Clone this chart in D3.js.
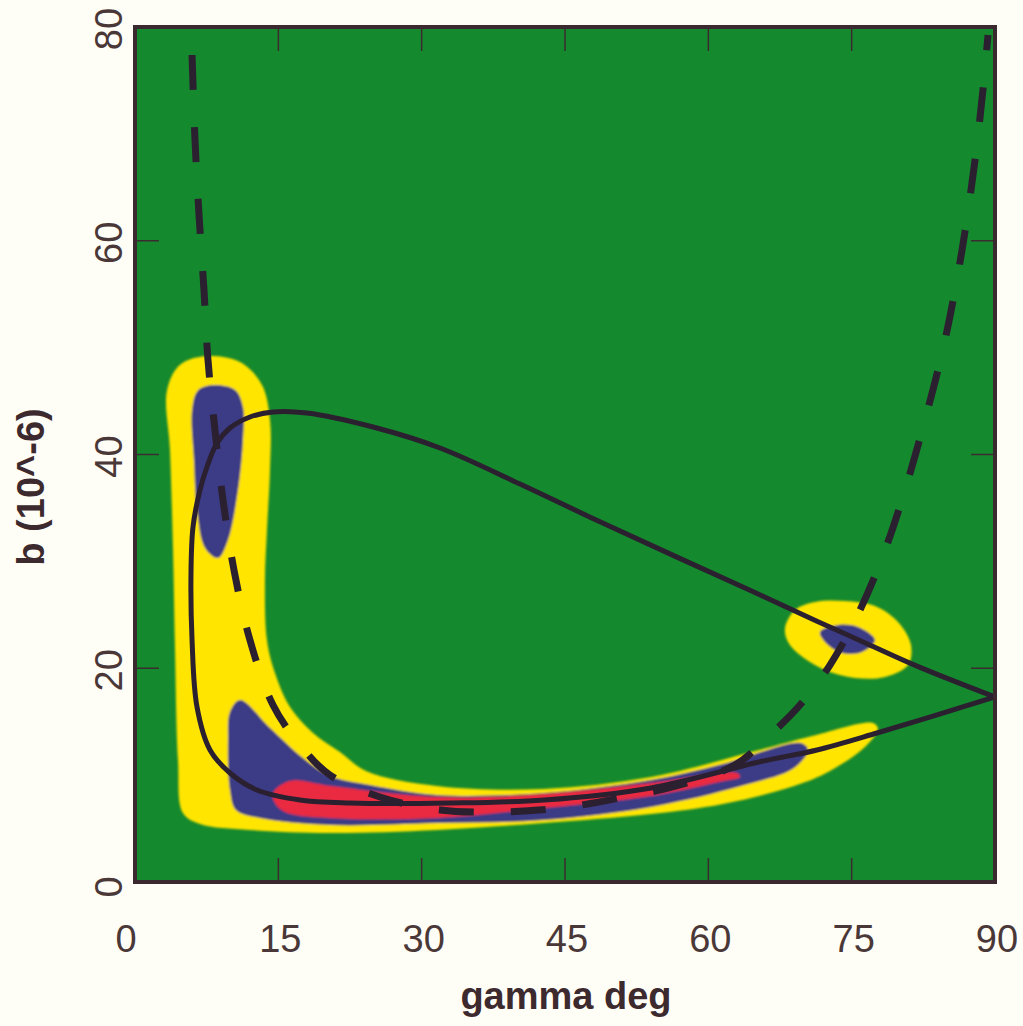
<!DOCTYPE html>
<html>
<head>
<meta charset="utf-8">
<script src="https://cdn.jsdelivr.net/npm/d3@7"></script>
<style>
  body { margin: 0; background: #fffef6; }
  svg { display: block; }
  text { font-family: "Liberation Sans", Arial, sans-serif; }
</style>
</head>
<body>
<div class="chart"></div>
<script>
// axis ticks
const xTicks = [0, 15, 30, 45, 60, 75, 90];
const yTicks = [0, 20, 40, 60, 80];

// contour regions, [gamma deg, b (10^-6)]
const yellowL = [
  [7.33, 49.2], [10.99, 48.65], [13.29, 46.5], [14.13, 43.2], [14.13, 38.55],
  [13.81, 32.9], [13.6, 28.26], [13.81, 22.64], [14.65, 19.55], [16.22, 16.37],
  [18.63, 13.94], [21.45, 12.16], [24.17, 10.39], [31.6, 8.98], [42.8, 8.7],
  [54.0, 9.82], [65.3, 12.35], [70.85, 13.66], [77.23, 14.88], [77.75, 14.32],
  [76.5, 12.73], [72.73, 10.39], [68.97, 8.98], [61.53, 7.3], [54.0, 6.36],
  [42.8, 5.52], [31.6, 4.87], [20.4, 4.58], [12.03, 4.87], [6.8, 5.43],
  [5.02, 6.46], [4.5, 11.4], [4.19, 21.7], [3.98, 31.06], [3.66, 40.4],
  [3.35, 46.0], [4.71, 48.4]
];
const yellowEllipse = [
  [68.02, 23.77], [69.07, 25.45], [71.16, 26.2], [74.3, 26.29], [77.44, 25.82],
  [79.85, 24.33], [81.21, 22.18], [80.9, 20.3], [78.49, 19.18], [75.35, 19.09],
  [72.21, 19.84], [69.59, 21.24], [68.34, 22.46]
];
const blueUpper = [
  [8.16, 46.5], [10.47, 46.04], [11.3, 44.44], [11.3, 41.36], [10.78, 36.68],
  [9.73, 32.0], [8.69, 30.32], [7.33, 31.25], [6.49, 34.8], [6.17, 39.49],
  [5.97, 44.16], [6.59, 46.0]
];
const blueLower = [
  [10.99, 17.03], [14.13, 14.41], [17.58, 11.6], [20.41, 9.92], [24.59, 9.08],
  [31.6, 8.14], [42.8, 8.33], [54.0, 9.54], [61.53, 11.04], [69.7, 13.0],
  [70.43, 12.35], [68.97, 10.67], [63.42, 8.98], [54.0, 7.02], [42.8, 5.8],
  [31.6, 5.52], [20.41, 5.33], [13.08, 5.99], [10.57, 6.74], [9.94, 8.61],
  [9.73, 13.29], [9.94, 15.9]
];
const blueEllipse = [
  [71.69, 23.39], [73.57, 24.05], [75.66, 23.86], [77.44, 22.64],
  [76.08, 21.52], [73.99, 21.43], [72.31, 22.36]
];
const redBand = [
  [14.44, 8.33], [16.22, 9.45], [20.41, 8.98], [31.6, 7.95], [42.8, 8.23],
  [54.0, 9.26], [63.0, 10.2], [63.31, 9.82], [61.53, 9.45], [54.0, 8.05],
  [42.8, 6.92], [31.6, 5.99], [20.41, 5.99], [15.7, 6.55], [14.65, 7.39]
];

// curves
const solidCurve = [
  [90.0, 17.31], [81.84, 20.2], [76.6, 22.3], [71.37, 24.4], [64.36, 27.3],
  [56.72, 30.4], [48.66, 33.7], [40.29, 37.24], [31.92, 40.61], [24.91, 42.57],
  [18.0, 43.88], [14.44, 43.98], [12.03, 43.51], [9.94, 42.48], [8.58, 41.08],
  [7.53, 38.83], [6.8, 36.68], [6.07, 33.22], [5.86, 28.91], [5.97, 22.64],
  [6.49, 16.37], [7.85, 12.35], [9.94, 10.2], [12.77, 8.61], [17.27, 7.67],
  [22.5, 7.39], [32.97, 7.39], [42.8, 7.67], [54.0, 8.8], [65.3, 11.23],
  [71.37, 12.35], [77.65, 13.94], [90.0, 17.31]
];
const dashedCurve = [
  [5.97, 77.38], [6.28, 69.43], [6.7, 62.41], [7.22, 55.39], [7.64, 48.84],
  [8.37, 42.29], [9.21, 35.74], [10.36, 29.19], [12.03, 22.64], [14.44, 16.56],
  [17.27, 12.82], [20.41, 10.01], [25.64, 7.95], [31.92, 6.74], [38.2, 6.55],
  [44.48, 6.92], [50.76, 7.86], [57.03, 9.08], [62.79, 10.95], [66.45, 13.75],
  [69.59, 16.56], [72.73, 20.3], [75.87, 25.45], [78.49, 31.06], [80.58, 36.68],
  [82.67, 43.23], [84.77, 50.71], [86.55, 59.13], [87.91, 67.56], [88.74, 74.11],
  [89.27, 79.25]
];

const width = 1023, height = 1026;
const margin = {left: 135, right: 28, top: 27, bottom: 144};
const innerW = width - margin.left - margin.right;
const innerH = height - margin.top - margin.bottom;

const x = d3.scaleLinear().domain([0, 90]).range([0, innerW]);
const y = d3.scaleLinear().domain([0, 80]).range([innerH, 0]);

const svg = d3.select('div.chart').append('svg')
  .attr('width', width)
  .attr('height', height);

svg.append('defs').append('clipPath').attr('id', 'plotclip')
  .append('rect').attr('width', innerW).attr('height', innerH);

// slightly soft contour edges, like the printed original
const blur = svg.select('defs').append('filter').attr('id', 'soft')
  .attr('x', '-5%').attr('y', '-5%').attr('width', '110%').attr('height', '110%');
blur.append('feGaussianBlur').attr('stdDeviation', 0.9);

const g = svg.append('g').attr('transform', `translate(${margin.left},${margin.top})`);
const plot = g.append('g').attr('clip-path', 'url(#plotclip)');

plot.append('rect')
  .attr('width', innerW).attr('height', innerH)
  .style('fill', '#15892d');

const area = d3.line().x(d => x(d[0])).y(d => y(d[1])).curve(d3.curveCatmullRomClosed.alpha(0.5));
const curve = d3.line().x(d => x(d[0])).y(d => y(d[1])).curve(d3.curveCatmullRom.alpha(0.5));

const regions = [
  {pts: yellowL, color: '#ffe500'},
  {pts: yellowEllipse, color: '#ffe500'},
  {pts: blueUpper, color: '#3a3a86'},
  {pts: blueLower, color: '#3a3a86'},
  {pts: blueEllipse, color: '#3a3a86'},
  {pts: redBand, color: '#ea2a40'}
];

plot.append('g').attr('filter', 'url(#soft)')
  .selectAll('path')
  .data(regions)
  .enter()
    .append('path')
    .attr('d', d => area(d.pts))
    .style('fill', d => d.color);

plot.append('path')
  .attr('d', curve(solidCurve))
  .style('fill', 'none')
  .style('stroke', '#2b2030')
  .style('stroke-width', 5);

plot.append('path')
  .attr('d', curve(dashedCurve))
  .style('fill', 'none')
  .style('stroke', '#2b2030')
  .style('stroke-width', 7)
  .style('stroke-dasharray', '35,37');

// inside ticks on all four sides
const tickLen = 24;
const tickColor = '#3a2c30';
xTicks.slice(1, -1).forEach(t => {
  g.append('line').attr('x1', x(t)).attr('x2', x(t)).attr('y1', innerH).attr('y2', innerH - tickLen)
    .style('stroke', tickColor).style('stroke-width', 1.5);
  g.append('line').attr('x1', x(t)).attr('x2', x(t)).attr('y1', 0).attr('y2', tickLen)
    .style('stroke', tickColor).style('stroke-width', 1.5);
});
yTicks.slice(1, -1).forEach(t => {
  g.append('line').attr('x1', 0).attr('x2', tickLen).attr('y1', y(t)).attr('y2', y(t))
    .style('stroke', tickColor).style('stroke-width', 1.5);
  g.append('line').attr('x1', innerW).attr('x2', innerW - tickLen).attr('y1', y(t)).attr('y2', y(t))
    .style('stroke', tickColor).style('stroke-width', 1.5);
});

// frame
g.append('rect')
  .attr('width', innerW).attr('height', innerH)
  .style('fill', 'none')
  .style('stroke', '#3a2a30')
  .style('stroke-width', 4);

// tick labels
const labelColor = '#4a3838';
g.append('g').selectAll('text')
  .data(xTicks)
  .enter()
    .append('text')
    .attr('x', d => x(d) + (d === 0 ? -9 : 2))
    .attr('y', innerH + 70)
    .attr('text-anchor', 'middle')
    .style('font-size', '38px')
    .style('fill', labelColor)
    .text(d => d);

g.append('g').selectAll('text')
  .data(yTicks)
  .enter()
    .append('text')
    .attr('transform', d => `translate(-13,${y(d) + (d === 0 ? 5 : 2)}) rotate(-90)`)
    .attr('text-anchor', 'middle')
    .style('font-size', '38px')
    .style('fill', labelColor)
    .text(d => d);

// axis titles
svg.append('text')
  .attr('x', 566)
  .attr('y', 1009)
  .attr('text-anchor', 'middle')
  .style('font-size', '38px')
  .style('font-weight', 'bold')
  .style('fill', '#3d2a2e')
  .text('gamma deg');

svg.append('text')
  .attr('transform', 'translate(44,487) rotate(-90)')
  .attr('text-anchor', 'middle')
  .style('font-size', '38px')
  .style('font-weight', 'bold')
  .style('fill', '#3d2a2e')
  .text('b (10^-6)');
</script>
</body>
</html>
